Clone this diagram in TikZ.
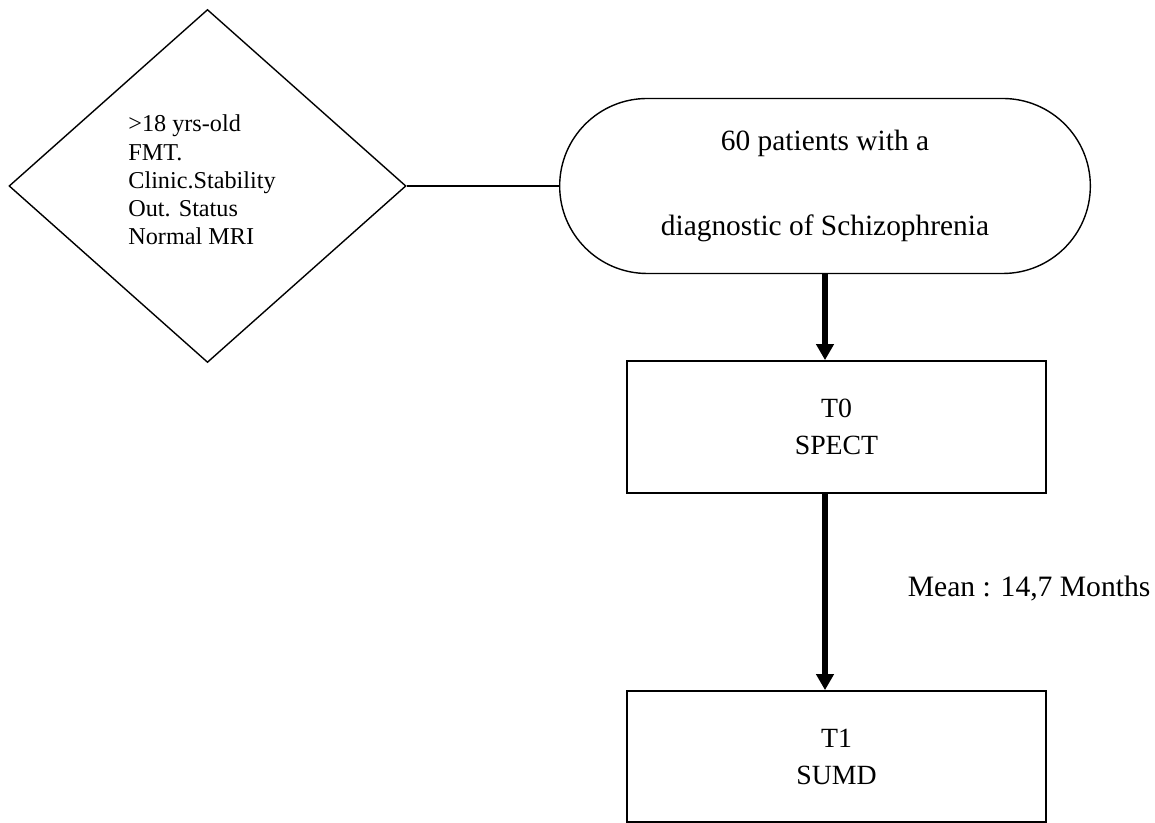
\documentclass[tikz,border=0pt]{standalone}
\usepackage{fontspec}
\setmainfont{Liberation Serif}
\usetikzlibrary{shapes.geometric,shapes.misc,arrows.meta}
\tikzset{
  critbox/.style={draw, diamond, line width=0.7pt, inner sep=0pt, aspect=1.12,
    minimum width=198.5pt, minimum height=176.5pt},
  critlist/.style={align=left, inner sep=0pt, font=\fontsize{12.1}{14.1}\selectfont},
  cohortbox/.style={draw, rounded rectangle, line width=0.7pt,
    minimum width=272pt, minimum height=87.5pt, align=center,
    font=\fontsize{14.7}{42.5}\selectfont},
  stagebox/.style={draw, line width=0.85pt, minimum width=209.5pt, align=center,
    font=\fontsize{13.9}{18.5}\selectfont},
  flow/.style={line width=2.8pt, -{Triangle[length=8pt,width=8.5pt]}}
}
\begin{document}
\begin{tikzpicture}[x=0.5pt,y=0.5pt]
    \useasboundingbox (0,0) rectangle (1155,823);
    % inclusion criteria and cohort
    \node[critbox] (crit) at (207.5,637) {};
    \node[critlist] (critxt) at (202,643) {>18 yrs-old\\FMT.\\Clinic.Stability\\Out. Status\\Normal MRI};
    \node[cohortbox] (pop) at (825,637) {60 patients with a\\diagnostic of Schizophrenia};
    \draw[line width=0.7pt] (crit.east) -- (pop.west);
    % the two time points
    \node[stagebox, minimum height=66pt] (t0) at (836.5,396) {T0\\SPECT};
    \node[stagebox, minimum height=65.5pt] (t1) at (836.5,66.5) {T1\\SUMD};
    \draw[flow] (pop.south) -- (pop.south |- t0.north);
    \draw[flow] (pop.south |- t0.south) -- (pop.south |- t1.north)
      node[pos=0.48, anchor=west, inner sep=0pt, xshift=40pt, font=\fontsize{14.8}{17}\selectfont] (gap) {Mean : 14,7 Months};
  \end{tikzpicture}
\end{document}
